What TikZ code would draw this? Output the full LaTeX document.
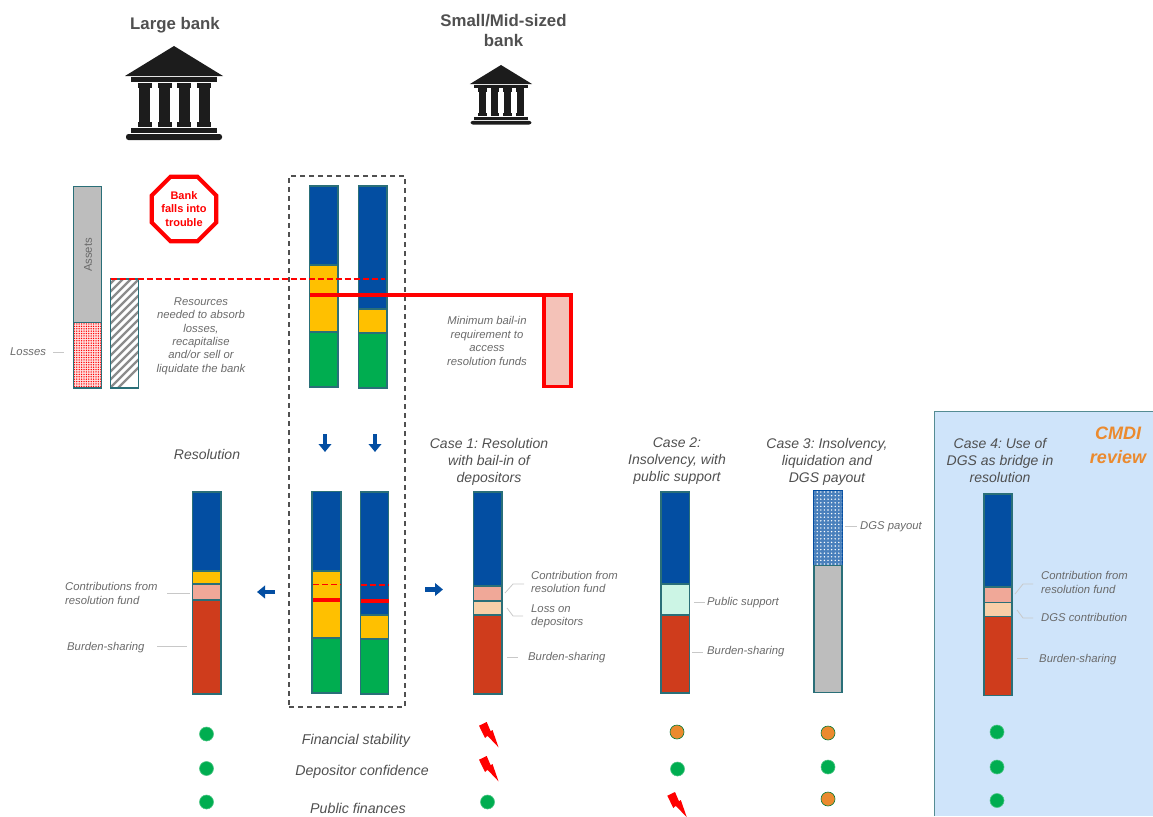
\documentclass[tikz,border=0pt]{standalone}
\usepackage{fontspec}
\setmainfont{Liberation Sans}
\usetikzlibrary{arrows.meta,patterns.meta,shapes.geometric}
\definecolor{cblue}{HTML}{034EA2}
\definecolor{cyellow}{HTML}{FFC000}
\definecolor{cgreen}{HTML}{00AD50}
\definecolor{cbrick}{HTML}{CF3C1C}
\definecolor{csalmon}{HTML}{F0A898}
\definecolor{cpeach}{HTML}{F8CFA8}
\definecolor{cmint}{HTML}{CCF5E5}
\definecolor{cgrey}{HTML}{BDBDBD}
\definecolor{cteal}{HTML}{2A6F78}
\definecolor{cpink}{HTML}{F4C2B8}
\definecolor{cpanel}{HTML}{CFE4FA}
\definecolor{corange}{HTML}{EB8A2E}
\definecolor{ctxt}{HTML}{6A6A6A}
\definecolor{cdark}{HTML}{505050}
\definecolor{cleader}{HTML}{C8C8C8}
\definecolor{cbank}{HTML}{1C1C1C}
\tikzset{
  seg/.style={draw=cteal,line width=1.4pt,inner sep=0pt,outer sep=0pt,rectangle},
  lbl/.style={text=ctxt,font=\fontsize{11.3}{13.4}\selectfont\itshape,align=left,anchor=west,inner sep=0pt},
  ctr/.style={text=ctxt,font=\fontsize{11.3}{13.4}\selectfont\itshape,align=center,inner sep=0pt},
  head/.style={text=cdark,font=\fontsize{14}{17}\selectfont\itshape,align=center,inner sep=0pt},
  rowlbl/.style={text=cdark,font=\fontsize{14.2}{16}\selectfont\itshape,inner sep=0pt},
  title/.style={text=cdark,font=\fontsize{16.8}{20}\selectfont\bfseries,align=center,inner sep=0pt},
  leader/.style={draw=cleader,line width=.8pt},
  dot/.style={circle,fill=cgreen,draw=cgreen!70!white,line width=.6pt,minimum size=14pt,inner sep=0pt},
  odot/.style={dot,fill=corange,draw=cgreen!70!black},
  flow/.style={draw=cblue,line width=4.4pt,-{Triangle[length=8pt,width=12.5pt]}},
  redthick/.style={draw=red,line width=4pt},
  reddash/.style={draw=red,line width=1.8pt,dash pattern=on 6pt off 3pt},
  bolt/.style={fill=red,draw=none},
  bankfill/.style={fill=cbank,draw=none},
}
\frenchspacing
\newcommand{\seg}[6]{%
  \pgfmathsetmacro{\sw}{#4-#2}\pgfmathsetmacro{\sh}{#5-#3}%
  \pgfmathsetmacro{\sx}{(#4+#2)/2}\pgfmathsetmacro{\sy}{(#5+#3)/2}%
  \node[seg,minimum width=\sw pt,minimum height=\sh pt,#6] (#1) at (\sx,\sy) {};}
\newcommand{\bankicon}[3]{%
  \begin{scope}[shift={(#1,#2)},scale=#3]
    \path[bankfill] (0,0) -- (49,30) -- (-49,30) -- cycle;
    \path[bankfill] (-43,31) rectangle (43,36);
    \foreach \c in {-29.5,-9.5,10,30}{
      \path[bankfill] (\c-7,37) rectangle (\c+7,42);
      \path[bankfill] (\c-5.5,42) rectangle (\c+5.5,76);
      \path[bankfill] (\c-7,76) rectangle (\c+7,81);
    }
    \path[bankfill] (-43,82) rectangle (43,87);
    \path[bankfill,rounded corners=2.5pt] (-48,88) rectangle (48,94);
  \end{scope}}
\newcommand{\boltat}[2]{%
  \path[bolt] (#1,#2) ++(0,3.7) -- ++(7.7,-3.7) -- ++(4,9.3) -- ++(1.8,-1.3) -- ++(6,17.3) -- ++(-11,-11.5) -- ++(-2.5,2.2) -- cycle;}
\begin{document}
\begin{tikzpicture}[x=1pt,y=-1pt]
\useasboundingbox (0,0) rectangle (1153,816);
% CMDI panel
\path[fill=cpanel] (934.5,411.5) rectangle (1153,816);
\coordinate (pa) at (1153,411.5); \coordinate (pb) at (934.5,411.5); \coordinate (pc) at (934.5,816);
\draw[cteal!80!white,line width=1.4pt] (pa) -- (pb) -- (pc);
% titles and banks
\node[title] (tlarge) at (175,25.5) {Large bank};
\node[title] (tsmall) at (503.5,30.5) {Small/Mid-sized\\bank};
\bankicon{174}{46}{1}
\bankicon{501}{65}{0.634}
% trouble sign
\node[regular polygon,regular polygon sides=8,minimum size=70pt,draw=red,line width=4.2pt,fill=white,inner sep=0pt,
  text=red,font=\fontsize{11}{13.5}\selectfont\bfseries,align=center] (stop) at (184,209) {Bank\\falls into\\trouble};
% assets and needs
\seg{assets}{73.5}{186.5}{101.5}{322.5}{fill=cgrey}
\seg{losses}{73.5}{322.5}{101.5}{388}{preaction={fill=red!12},pattern={Dots[radius=.75pt,distance=2.4pt]},pattern color=red}
\seg{need}{110.5}{279}{138.5}{388}{fill=white}
\begin{scope}
  \clip (need.south west) rectangle (need.north east);
  \foreach \k in {0,8,...,144}{
    \draw[gray!90,line width=2.2pt] (102,388+8-\k+8) -- ++(40,-40);
  }
\end{scope}
\node[seg,fill=none,minimum width=28pt,minimum height=109pt] (needframe) at (need.center) {};
\node[rotate=90,text=ctxt,font=\fontsize{11.3}{13}\selectfont,inner sep=0pt] (lassets) at (88,255) {Assets};
\node[lbl] (llosses) at (10,352) {Losses};
\coordinate (lla) at (53,352); \coordinate (llb) at (64,352);
\draw[leader] (lla) -- (llb);
\node[ctr] (lres) at (201,336) {Resources\\needed to absorb\\losses,\\recapitalise\\and/or sell or\\liquidate the bank};
% dashed box
\node[draw=cdark,line width=1.1pt,dash pattern=on 5pt off 4pt,minimum width=116pt,minimum height=531pt,inner sep=0pt] (box) at (347,441.5) {};
% upper bars
\seg{ua}{309.5}{186}{338}{265}{fill=cblue}
\seg{ub}{309.5}{265}{338}{332}{fill=cyellow}
\seg{uc}{309.5}{332}{338}{387}{fill=cgreen}
\seg{va}{358.5}{186}{387}{309}{fill=cblue}
\seg{vb}{358.5}{309}{387}{333}{fill=cyellow}
\seg{vc}{358.5}{333}{387}{388}{fill=cgreen}
% red lines
\coordinate (dashend) at (385,279);
\draw[reddash] (need.north west) -- (dashend);
\seg{minreq}{544}{294.5}{571}{386.5}{draw=red,line width=3.6pt,fill=cpink}
\draw[redthick] (ub.west |- minreq.north) -- (minreq.north east);
\node[ctr] (lmin) at (487,341) {Minimum bail-in\\requirement to\\access\\resolution funds};
% down arrows
\coordinate (da1) at (325,434); \coordinate (da2) at (325,452);
\coordinate (db1) at (375,434); \coordinate (db2) at (375,452);
\draw[flow] (da1) -- (da2);
\draw[flow] (db1) -- (db2);
% lower bars
\seg{wa}{312}{491.5}{341}{571}{fill=cblue}
\seg{wb}{312}{571}{341}{638}{fill=cyellow}
\seg{wc}{312}{638}{341}{693}{fill=cgreen}
\seg{xa}{360.5}{492}{388.5}{615}{fill=cblue}
\seg{xb}{360.5}{615}{388.5}{639}{fill=cyellow}
\seg{xc}{360.5}{639}{388.5}{694}{fill=cgreen}
\coordinate (w1) at (313,584.5); \coordinate (w2) at (341,584.5);
\coordinate (x1) at (361,585); \coordinate (x2) at (389,585);
\coordinate (w3) at (313,600); \coordinate (w4) at (340,600);
\coordinate (x3) at (361,601); \coordinate (x4) at (389,601);
\draw[reddash,line width=1.5pt] (w1) -- (w2);
\draw[reddash,line width=1.5pt] (x1) -- (x2);
\draw[redthick] (w3) -- (w4);
\draw[redthick] (x3) -- (x4);
% side arrows
\coordinate (al1) at (275,592); \coordinate (al2) at (257,592);
\coordinate (ar1) at (425,589.5); \coordinate (ar2) at (443,589.5);
\draw[flow] (al1) -- (al2);
\draw[flow] (ar1) -- (ar2);
% resolution
\node[head] (hres) at (207,454.5) {Resolution};
\seg{ra}{192.5}{492}{221}{571}{fill=cblue}
\seg{rb}{192.5}{571}{221}{584}{fill=cyellow}
\seg{rc}{192.5}{584}{221}{600}{fill=csalmon}
\seg{rd}{192.5}{600}{221}{694}{fill=cbrick}
\node[lbl] (lrc) at (65,593.5) {Contributions from\\resolution fund};
\node[lbl] (lrd) at (67,647.5) {Burden-sharing};
\coordinate (lrc1) at (167,593); \coordinate (lrc2) at (190,593);
\coordinate (lrd1) at (157,646); \coordinate (lrd2) at (187,646);
\draw[leader] (lrc1) -- (lrc2);
\draw[leader] (lrd1) -- (lrd2);
% case 1
\node[head] (hc1) at (489,461.5) {Case 1: Resolution\\with bail-in of\\depositors};
\seg{ca}{473.5}{492}{502}{586}{fill=cblue}
\seg{cb}{473.5}{586}{502}{601}{fill=csalmon}
\seg{cc}{473.5}{601}{502}{615}{fill=cpeach}
\seg{cd}{473.5}{615}{502}{694}{fill=cbrick}
\node[lbl] (lcb) at (531,582) {Contribution from\\resolution fund};
\node[lbl] (lcc) at (531,616) {Loss on\\depositors};
\node[lbl] (lcd) at (528,657.5) {Burden-sharing};
\coordinate (c1a) at (505,593); \coordinate (c1b) at (513,584); \coordinate (c1c) at (524,584);
\coordinate (c2a) at (507,608); \coordinate (c2b) at (513,616); \coordinate (c2c) at (523,616);
\coordinate (c3a) at (507,657); \coordinate (c3b) at (518,657);
\draw[leader] (c1a) -- (c1b) -- (c1c);
\draw[leader] (c2a) -- (c2b) -- (c2c);
\draw[leader] (c3a) -- (c3b);
% case 2
\node[head] (hc2) at (677,461.5) {Case 2:\\Insolvency, with\\public support};
\seg{da}{661}{492}{689.5}{584}{fill=cblue}
\seg{db}{661}{584}{689.5}{615}{fill=cmint}
\seg{dc}{661}{615}{689.5}{693}{fill=cbrick}
\node[lbl] (ldb) at (707,602.5) {Public support};
\node[lbl] (ldc) at (707,651.5) {Burden-sharing};
\coordinate (d1a) at (694,602); \coordinate (d1b) at (705,602);
\coordinate (d2a) at (692,652); \coordinate (d2b) at (703,652);
\draw[leader] (d1a) -- (d1b);
\draw[leader] (d2a) -- (d2b);
% case 3
\node[head] (hc3) at (827,461.5) {Case 3: Insolvency,\\liquidation and\\DGS payout};
\seg{ea}{814}{491}{842}{565.5}{preaction={fill=white},postaction={fill=cblue!72},postaction={pattern={Dots[radius=.8pt,distance=3.6pt]},pattern color=white},draw=cblue}
\seg{eb}{814}{565.5}{842}{692.5}{fill=cgrey}
\node[lbl] (lea) at (860,527) {DGS payout};
\coordinate (e1a) at (845,526); \coordinate (e1b) at (857,526);
\draw[leader] (e1a) -- (e1b);
% case 4
\node[head] (hc4) at (1000,460.5) {Case 4: Use of\\DGS as bridge in\\resolution};
\node[text=corange,font=\fontsize{18}{24}\selectfont\bfseries\itshape,align=center,inner sep=0pt] (cmdi) at (1118,445) {CMDI\\review};
\seg{fa}{984}{494}{1012}{587}{fill=cblue}
\seg{fb}{984}{587}{1012}{602.5}{fill=csalmon}
\seg{fc}{984}{602.5}{1012}{616.5}{fill=cpeach}
\seg{fd}{984}{616.5}{1012}{695.5}{fill=cbrick}
\node[lbl] (lfb) at (1041,582.5) {Contribution from\\resolution fund};
\node[lbl] (lfc) at (1041,617) {DGS contribution};
\node[lbl] (lfd) at (1039,659.5) {Burden-sharing};
\coordinate (f1a) at (1015,594); \coordinate (f1b) at (1023,584); \coordinate (f1c) at (1033,584);
\coordinate (f2a) at (1017,610); \coordinate (f2b) at (1023,618); \coordinate (f2c) at (1033,618);
\coordinate (f3a) at (1017,658); \coordinate (f3b) at (1028,658);
\draw[leader] (f1a) -- (f1b) -- (f1c);
\draw[leader] (f2a) -- (f2b) -- (f2c);
\draw[leader] (f3a) -- (f3b);
% outcome rows
\node[rowlbl] (rfs) at (356,741) {Financial stability};
\node[rowlbl] (rdc) at (362,772) {Depositor confidence};
\node[rowlbl] (rpf) at (358,808) {Public finances};
\node[dot] (o11) at (206.5,734) {};
\node[dot] (o12) at (206.5,768.5) {};
\node[dot] (o13) at (206.5,802) {};
\boltat{479}{722}
\boltat{479}{756}
\node[dot] (o23) at (487.5,802) {};
\node[odot] (o31) at (677,732) {};
\node[dot] (o32) at (677.5,769) {};
\boltat{667.3}{792}
\node[odot] (o41) at (828,733) {};
\node[dot] (o42) at (828,767) {};
\node[odot] (o43) at (828,799) {};
\node[dot] (o51) at (997,732) {};
\node[dot] (o52) at (997,767) {};
\node[dot] (o53) at (997,800.5) {};
\end{tikzpicture}
\end{document}
